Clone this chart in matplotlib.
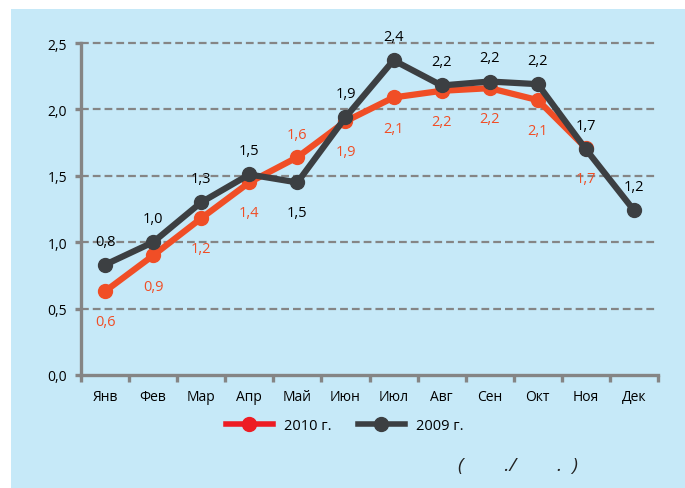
import numpy as np
import matplotlib
matplotlib.use("Agg")
import matplotlib.pyplot as plt
from matplotlib.lines import Line2D

plt.rcParams['font.family'] = ['Open Sans', 'DejaVu Sans']

months = ["Янв", "Фев", "Мар", "Апр", "Май", "Июн", "Июл", "Авг", "Сен", "Окт", "Ноя", "Дек"]
y2010 = [0.63, 0.90, 1.18, 1.45, 1.64, 1.91, 2.09, 2.14, 2.16, 2.07, 1.71]
y2009 = [0.83, 1.00, 1.30, 1.51, 1.45, 1.94, 2.37, 2.18, 2.21, 2.19, 1.70, 1.24]
lab2010 = ["0,6", "0,9", "1,2", "1,4", "1,6", "1,9", "2,1", "2,2", "2,2", "2,1", "1,7"]
lab2009 = ["0,8", "1,0", "1,3", "1,5", "1,5", "1,9", "2,4", "2,2", "2,2", "2,2", "1,7", "1,2"]
yticks = [0.0, 0.5, 1.0, 1.5, 2.0, 2.5]

bg = '#c6e9f8'
red = '#f04e26'
dark = '#3c3f42'
gray = '#858585'

fig = plt.figure(figsize=(6.85, 4.89), dpi=100)
fig.patch.set_facecolor('white')
fig.patches.append(plt.Rectangle((11 / 685, 0), 1, 1 - 10 / 489, transform=fig.transFigure,
                                 facecolor=bg, edgecolor='none', zorder=-10))

ax = fig.add_axes([81 / 685, 1 - 376 / 489, (658 - 81) / 685, (376 - 44) / 489])
ax.set_facecolor('none')
ax.set_xlim(-0.5, 11.5)
ax.set_ylim(0, 2.5)

x = np.arange(len(months))
ax.plot(x[:len(y2010)], y2010, color=red, lw=4.5, marker='o', ms=10, zorder=3, clip_on=False)
ax.plot(x, y2009, color=dark, lw=4.5, marker='o', ms=10, zorder=4, clip_on=False)

for i, (v, t) in enumerate(zip(y2010, lab2010)):
    dy = 16 if i == 4 else -22
    ax.annotate(t, (i, v), xytext=(0, dy), textcoords='offset points', ha='center', va='center',
                color=red, fontsize=10.5)
for i, (v, t) in enumerate(zip(y2009, lab2009)):
    dy = -22 if i == 4 else 17
    ax.annotate(t, (i, v), xytext=(0, dy), textcoords='offset points', ha='center', va='center',
                color='black', fontsize=10.5)

# grid
for yv in yticks[1:]:
    ax.axhline(yv, color=gray, lw=1.6, ls=(0, (3.5, 1.8)), zorder=1, clip_on=False)

for s in ['top', 'right']:
    ax.spines[s].set_visible(False)
for s in ['left', 'bottom']:
    ax.spines[s].set_color(gray)
    ax.spines[s].set_linewidth(2.4)

ax.set_yticks(yticks)
ax.set_yticklabels([f"{v:.1f}".replace('.', ',') for v in yticks], fontsize=10)
ax.tick_params(axis='y', length=4, width=2.4, color=gray, pad=6)

ax.set_xticks(x)
ax.set_xticklabels(months, fontsize=10)
ax.tick_params(axis='x', which='major', length=0, pad=10)
ax.set_xticks(np.arange(-0.5, 12, 1), minor=True)
ax.tick_params(axis='x', which='minor', length=5, width=2.4, color=gray)

handles = [Line2D([], [], color='#ed1c24', lw=4, marker='o', ms=10),
           Line2D([], [], color=dark, lw=4, marker='o', ms=10)]
fig.legend(handles, ["2010 г.", "2009 г."], loc='center', bbox_to_anchor=(345 / 685, 1 - 427 / 489),
           ncol=2, frameon=False, fontsize=10.5, handlelength=3.2, columnspacing=1.8)

fig.text(518 / 685, 1 - 466 / 489, "(        ./        .  )", ha='center', va='center',
         fontsize=14, style='italic', color='#222222')

fig.savefig("out.png", dpi=100, facecolor=fig.get_facecolor())
